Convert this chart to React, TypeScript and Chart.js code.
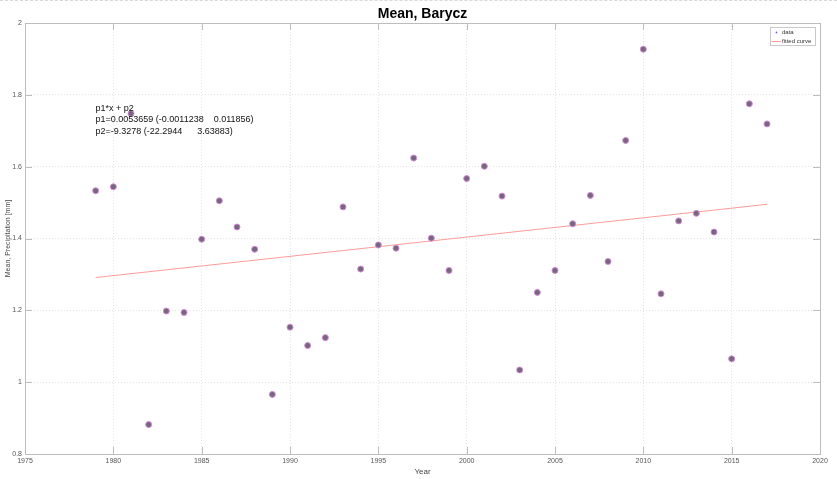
import React, { useEffect, useRef } from "react";
import { Chart, registerables } from "chart.js";

Chart.register(...registerables);

const chartTitle = "Mean, Barycz";
const xTitle = "Year";
const yTitle = "Mean, Precipitation [mm]";

const years = [
  1979, 1980, 1981, 1982, 1983, 1984, 1985, 1986, 1987, 1988,
  1989, 1990, 1991, 1992, 1993, 1994, 1995, 1996, 1997, 1998,
  1999, 2000, 2001, 2002, 2003, 2004, 2005, 2006, 2007, 2008,
  2009, 2010, 2011, 2012, 2013, 2014, 2015, 2016, 2017,
];
const values = [
  1.533, 1.544, 1.748, 0.882, 1.198, 1.194, 1.398, 1.505, 1.432, 1.37,
  0.966, 1.153, 1.102, 1.124, 1.488, 1.315, 1.382, 1.373, 1.624, 1.401,
  1.311, 1.567, 1.601, 1.518, 1.034, 1.25, 1.311, 1.441, 1.52, 1.336,
  1.673, 1.927, 1.246, 1.449, 1.47, 1.418, 1.065, 1.775, 1.719,
];
const fitYears = [1979, 2017];
const fitValues = [1.2913, 1.4952];

const xTicks = [1975, 1980, 1985, 1990, 1995, 2000, 2005, 2010, 2015, 2020];
const yTicks = [0.8, 1, 1.2, 1.4, 1.6, 1.8, 2];

const annotationLines = [
  "p1*x + p2",
  "p1=0.0053659 (-0.0011238    0.011856)",
  "p2=-9.3278 (-22.2944      3.63883)",
];
const legendLabels = ["data", "fitted curve"];

const FONT = "'Liberation Sans', Arial, sans-serif";
const AXIS_COLOR = "#bdbdbd";

const decorPlugin = {
  id: "decor",
  afterDraw(chart: any) {
    const ctx = chart.ctx;
    const { left, right, top, bottom } = chart.chartArea;
    const xs = chart.scales.x;
    const ys = chart.scales.y;
    ctx.save();
    ctx.strokeStyle = AXIS_COLOR;
    ctx.lineWidth = 1;
    ctx.setLineDash([]);
    ctx.strokeRect(left + 0.5, top + 0.5, right - left, bottom - top);
    ctx.beginPath();
    for (const v of xTicks) {
      const px = Math.round(xs.getPixelForValue(v)) + 0.5;
      ctx.moveTo(px, bottom);
      ctx.lineTo(px, bottom - 7);
      ctx.moveTo(px, top);
      ctx.lineTo(px, top + 7);
    }
    for (const v of yTicks) {
      const py = Math.round(ys.getPixelForValue(v)) + 0.5;
      ctx.moveTo(left, py);
      ctx.lineTo(left + 7, py);
      ctx.moveTo(right, py);
      ctx.lineTo(right - 7, py);
    }
    ctx.stroke();

    ctx.fillStyle = "#000";
    ctx.font = `bold 14px ${FONT}`;
    ctx.textAlign = "center";
    ctx.textBaseline = "middle";
    ctx.fillText(chartTitle, (left + right) / 2, 14);

    ctx.font = `9px ${FONT}`;
    ctx.textAlign = "left";
    ctx.fillStyle = "#111";
    annotationLines.forEach((t, i) => {
      ctx.fillText(t, 95.5, 108.5 + i * 11.5);
    });

    const lx = 770.5, ly = 27.5, lw = 45, lh = 18;
    ctx.fillStyle = "#fff";
    ctx.fillRect(lx, ly, lw, lh);
    ctx.strokeStyle = "#c8c8c8";
    ctx.strokeRect(lx, ly, lw, lh);
    ctx.fillStyle = "#6a6ae0";
    ctx.beginPath();
    ctx.arc(776.5, 32.5, 0.9, 0, Math.PI * 2);
    ctx.fill();
    ctx.strokeStyle = "#ff9a9a";
    ctx.beginPath();
    ctx.moveTo(771.5, 41.5);
    ctx.lineTo(781, 41.5);
    ctx.stroke();
    ctx.fillStyle = "#333";
    ctx.font = `6px ${FONT}`;
    ctx.fillText(legendLabels[0], 782, 32.5);
    ctx.fillText(legendLabels[1], 782, 41.5);
    ctx.restore();
  },
};

function ScatterChart() {
  const ref = useRef<HTMLCanvasElement | null>(null);
  useEffect(() => {
    if (!ref.current) return;
    const chart = new Chart(ref.current, {
      type: "scatter",
      data: {
        datasets: [
          {
            type: "line",
            label: legendLabels[1],
            data: fitYears.map((x, i) => ({ x, y: fitValues[i] })),
            borderColor: "#ff9a9a",
            borderWidth: 1,
            pointRadius: 0,
            showLine: true,
            fill: false,
            order: 2,
          } as any,
          {
            label: legendLabels[0],
            data: years.map((x, i) => ({ x, y: values[i] })),
            pointRadius: 3,
            pointBackgroundColor: "#76667e",
            pointBorderColor: "#d28ad6",
            pointBorderWidth: 1,
            showLine: false,
            order: 1,
          },
        ],
      },
      options: {
        animation: false,
        responsive: false,
        maintainAspectRatio: false,
        layout: { padding: { top: 23, right: 17, left: 0, bottom: 0 } },
        plugins: {
          legend: { display: false },
          tooltip: { enabled: false },
          title: { display: false },
        },
        scales: {
          x: {
            type: "linear",
            min: 1975,
            max: 2020,
            afterBuildTicks: (s: any) => {
              s.ticks = xTicks.map((v) => ({ value: v }));
            },
            afterFit: (s: any) => {
              s.height = 25;
            },
            ticks: {
              padding: 3,
              maxRotation: 0,
              autoSkip: false,
              color: "#555",
              font: { family: FONT, size: 7 },
              callback: (v: any) => String(v),
            },
            grid: {
              color: "#e4e4e4",
              drawTicks: false,
              lineWidth: 1,
            },
            border: { display: false, dash: [1, 2] },
            title: {
              display: true,
              text: xTitle,
              color: "#444",
              font: { family: FONT, size: 8 },
              padding: { top: 0, bottom: 2 },
            },
          },
          y: {
            type: "linear",
            min: 0.8,
            max: 2,
            afterBuildTicks: (s: any) => {
              s.ticks = yTicks.map((v) => ({ value: v }));
            },
            afterFit: (s: any) => {
              s.width = 25;
            },
            ticks: {
              padding: 3,
              color: "#555",
              font: { family: FONT, size: 7 },
              callback: (v: any) => String(v),
            },
            grid: {
              color: "#e4e4e4",
              drawTicks: false,
              lineWidth: 1,
            },
            border: { display: false, dash: [1, 2] },
            title: {
              display: true,
              text: yTitle,
              color: "#444",
              font: { family: FONT, size: 7 },
              padding: { top: 4, bottom: 0 },
            },
          },
        },
      },
      plugins: [decorPlugin],
    });
    return () => chart.destroy();
  }, []);
  return <canvas ref={ref} width={837} height={479} style={{ display: "block", width: 837, height: 479 }} />;
}

export default function App() {
  return (
    <div style={{ position: "fixed", left: 0, top: 0, width: 837, height: 479, background: "#fff" }}>
      <ScatterChart />
      <div
        style={{
          position: "absolute",
          left: 0,
          top: 0,
          width: 837,
          height: 0,
          borderTop: "1px dashed #d8d8d8",
        }}
      />
    </div>
  );
}
